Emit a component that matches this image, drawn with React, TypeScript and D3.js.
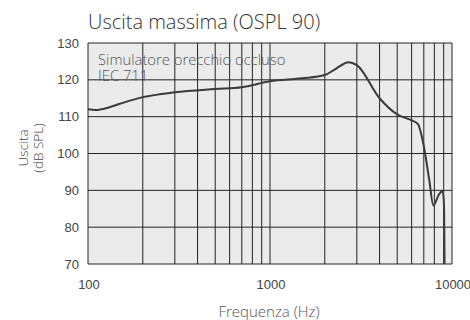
import React from "react";
import * as d3 from "d3";

const freqs = [100, 110, 130, 150, 200, 300, 500, 700, 1000, 1500, 2000, 2300, 2700, 3000, 4000, 5000, 6000, 6500, 7000, 7500, 7900, 8500, 8900, 9050, 9100];
const levels = [112.0, 111.8, 112.5, 113.5, 115.3, 116.6, 117.5, 118.0, 119.6, 120.4, 121.3, 123.0, 124.8, 124.0, 115.0, 110.6, 109.0, 108.0, 102.0, 92.8, 85.9, 89.0, 89.8, 85.0, 70.0];
const yTicks = [70, 80, 90, 100, 110, 120, 130];
const xTickLabels = [100, 1000, 10000];
const gridFreqs = [200, 300, 400, 500, 600, 700, 800, 900, 1000, 2000, 3000, 4000, 5000, 6000, 7000, 8000, 9000, 10000];

const W = 470, H = 320;
const L = 88, R = 452, T = 43, B = 264;

export default function App() {
  const x = d3.scaleLog().domain([100, 10000]).range([L, R]);
  const y = d3.scaleLinear().domain([70, 130]).range([B, T]);
  const line = d3.line<number>()
    .x((_, i) => x(freqs[i]))
    .y((d) => y(d))
    .curve(d3.curveMonotoneX);
  const path = line(levels) || "";
  const hum = "'Open Sans', 'Noto Sans', sans-serif";
  const ar = "'Liberation Sans', Arial, sans-serif";
  return (
    <svg width={W} height={H} style={{ position: "absolute", left: 0, top: 0 }}>
      <rect x={0} y={0} width={W} height={H} fill="#fff" />
      <text x={88} y={29} fontFamily={hum} fontSize={20} fontWeight={300} fill="#333">Uscita massima (OSPL 90)</text>
      <rect x={L} y={T} width={R - L} height={B - T} fill="#ebebeb" />
      <g stroke="#222" strokeWidth={1}>
        {yTicks.map((t) => (
          <line key={"h" + t} x1={L} x2={R} y1={y(t)} y2={y(t)} />
        ))}
        {gridFreqs.map((f) => (
          <line key={"v" + f} x1={x(f)} x2={x(f)} y1={T} y2={B} />
        ))}
        <line x1={L} x2={L} y1={T} y2={B} />
      </g>
      <text fontFamily={hum} fontSize={14.8} fontWeight={300} fill="#555">
        <tspan x={98} y={65}>Simulatore orecchio occluso</tspan>
        <tspan x={98} y={80.5}>IEC 711</tspan>
      </text>
      <path d={path} fill="none" stroke="#3a3a3a" strokeWidth={2} />
      {yTicks.map((t) => (
        <text key={"yt" + t} x={79} y={y(t) + 4.5} textAnchor="end" fontFamily={ar} fontSize={13} fill="#444">{t}</text>
      ))}
      {xTickLabels.map((t) => (
        <text key={"xt" + t} x={x(t) + 1} y={288.5} textAnchor="middle" fontFamily={ar} fontSize={13} fill="#444">{t}</text>
      ))}
      <text transform={`translate(28,148) rotate(-90)`} textAnchor="middle" fontFamily={hum} fontSize={13.5} fontWeight={300} fill="#444">Uscita</text>
      <text transform={`translate(43,148) rotate(-90)`} textAnchor="middle" fontFamily={hum} fontSize={13.5} fontWeight={300} fill="#444">(dB SPL)</text>
      <text x={269} y={316.5} textAnchor="middle" fontFamily={hum} fontSize={15} fontWeight={300} fill="#555">Frequenza (Hz)</text>
    </svg>
  );
}
